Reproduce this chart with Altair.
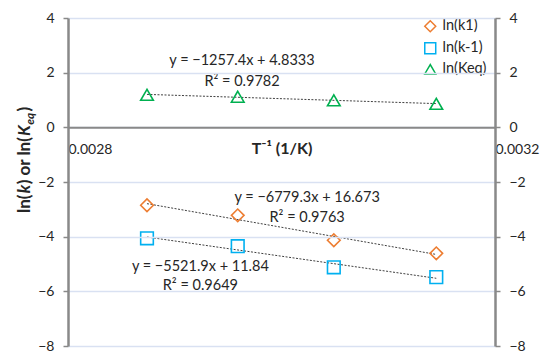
import altair as alt
import pandas as pd

FONT = "Lato"
TXT = "#262626"
AX = "#898989"

series_names = ["ln(k1)", "ln(k-1)", "ln(Keq)"]
series_colors = ["#ED7D31", "#00B0F0", "#00B050"]
series_shapes = ["diamond", "square", "triangle-up"]

inv_T = [0.002874, 0.002959, 0.003049, 0.003145]
ln_k1 = [-2.85, -3.22, -4.13, -4.61]
ln_km1 = [-4.06, -4.35, -5.12, -5.48]
ln_keq = [1.19, 1.12, 0.99, 0.86]

y_ticks = [-8, -6, -4, -2, 0, 2, 4]
x_ticks = [0.0028, 0.0032]

ann_text = ["y = \u22121257.4x + 4.8333", "R\u00b2 = 0.9782",
            "y = \u22126779.3x + 16.673", "R\u00b2 = 0.9763",
            "y = \u22125521.9x + 11.84", "R\u00b2 = 0.9649"]
ann_x = [0.002963, 0.002963, 0.003024, 0.003024, 0.002924, 0.002924]
ann_y = [2.43, 1.66, -2.59, -3.32, -5.11, -5.81]

rows = []
for name, vals in zip(series_names, [ln_k1, ln_km1, ln_keq]):
    for xv, yv in zip(inv_T, vals):
        rows.append({"x": xv, "y": yv, "series": name})
df = pd.DataFrame(rows)
ann = pd.DataFrame({"t": ann_text, "x": ann_x, "y": ann_y})

xscale = alt.Scale(domain=[0.0028, 0.0032], nice=False, zero=False)
yscale = alt.Scale(domain=[-8, 4], nice=False)

legend = alt.Legend(orient="none", legendX=355, legendY=1, title=None,
                    labelFont=FONT, labelFontSize=14.5, labelColor=TXT,
                    symbolStrokeWidth=1.5, symbolSize=120, rowPadding=4,
                    padding=0, labelOffset=5)

x_axis = alt.Axis(orient="bottom", values=x_ticks, format=".4f", offset=-218.67,
                  ticks=False, labelAlign="left", labelPadding=15,
                  labelFont=FONT, labelFontSize=14, labelColor=TXT,
                  labelFlush=False, labelOverlap=False, grid=False,
                  domainColor=AX, domainWidth=2, zindex=1,
                  title="T\u207b\u00b9 (1/K)", titleFont=FONT, titleFontSize=16,
                  titleFontWeight="bold", titleColor=TXT, titleY=21,
                  titleBaseline="middle")

left_axis = alt.Axis(orient="left", values=y_ticks, grid=True, gridColor="#D9E1F2",
                     gridWidth=1.5, domainColor=AX, domainWidth=2.5, tickColor=AX,
                     tickSize=5, tickWidth=1.5, labelFont=FONT, labelFontSize=14,
                     labelColor=TXT, labelPadding=9, title=None, zindex=1)
right_axis = alt.Axis(orient="right", values=y_ticks, grid=False,
                      domainColor=AX, domainWidth=2.5, tickColor=AX,
                      tickSize=5, tickWidth=1.5, labelFont=FONT, labelFontSize=14,
                      labelColor=TXT, labelPadding=9, labelAlign="left",
                      title=None, zindex=1)

base = alt.Chart(df)

trend = base.transform_regression("x", "y", groupby=["series"]).mark_line(
    color="#404040", strokeWidth=1, strokeDash=[2, 1.5]
).encode(
    x=alt.X("x:Q", scale=xscale, axis=x_axis),
    y=alt.Y("y:Q", scale=yscale, axis=left_axis),
    detail="series:N",
)

points = base.mark_point(filled=False, strokeWidth=1.6, size=160, opacity=1).encode(
    x=alt.X("x:Q", scale=xscale, axis=x_axis),
    y=alt.Y("y:Q", scale=yscale, axis=right_axis),
    color=alt.Color("series:N", scale=alt.Scale(domain=series_names, range=series_colors), legend=legend),
    shape=alt.Shape("series:N", scale=alt.Scale(domain=series_names, range=series_shapes), legend=legend),
)

labels = alt.Chart(ann).mark_text(font=FONT, fontSize=14.5, color=TXT).encode(
    x=alt.X("x:Q", scale=xscale, axis=x_axis),
    y=alt.Y("y:Q", scale=yscale, axis=None),
    text="t:N",
)

def piece(text, ypix, xpix, size, style):
    return alt.Chart(pd.DataFrame({"t": [text]})).mark_text(
        angle=270, align="left", baseline="alphabetic", font=FONT,
        fontSize=size, fontWeight="bold", fontStyle=style, color=TXT
    ).encode(text="t:N", x=alt.value(xpix), y=alt.value(ypix))

fs = 17
title_layers = [
    piece("ln(", 195, -38, fs, "normal"),
    piece("k", 175.3, -38, fs, "italic"),
    piece(") or ln(", 166.3, -38, fs, "normal"),
    piece("K", 118, -38, fs, "italic"),
    piece("eq", 106.8, -34, 12, "italic"),
    piece(")", 93.6, -38, fs, "normal"),
]

chart = alt.layer(trend, points, labels, *title_layers).resolve_axis(
    y="independent"
).properties(
    width=427, height=328,
    autosize=alt.AutoSizeParams(type="none"),
    padding={"left": 60, "top": 10, "right": 47, "bottom": 8},
).configure_view(stroke=None)

chart.save("out.html", embed_options={"renderer": "svg", "actions": False})
